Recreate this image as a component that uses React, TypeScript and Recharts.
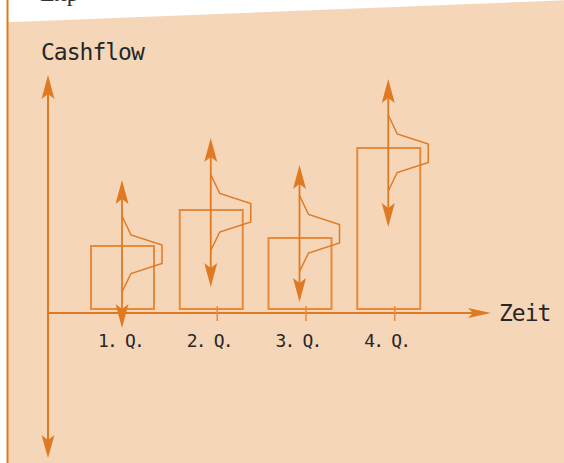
import React from 'react';
import { ComposedChart, Bar, XAxis, YAxis, ReferenceLine, ReferenceArea, LabelList, Label } from 'recharts';

// ---- data (values in cashflow units) ----
const quarters = ['1. Q.', '2. Q.', '3. Q.', '4. Q.'];
const boxValues = [6.3, 9.9, 7.1, 16.1];
const rangeLow = [-1.9, 2.2, 0.7, 8.2];
const rangeHigh = [12.9, 17.1, 14.4, 23.0];
const yAxisTitle = 'Cashflow';
const xAxisTitle = 'Zeit';
const pageHeading = 'Exp';
const Y_DOMAIN: [number, number] = [-14.9, 23.4];
const TIME_AXIS_VALUE = -0.4;

const data = quarters.map((q, i) => ({
  q,
  box: boxValues[i],
  range: [rangeLow[i], rangeHigh[i]],
}));

// ---- styles ----
const ORANGE = '#E07A22';
const BOX = '#E68A3C';
const PEACH = '#F5D6B9';
const INK = '#262626';
const MONO = '"DejaVu Sans Mono", "Liberation Mono", monospace';

const W = 564;
const H = 463;

const ValueArrow = (props: any) => {
  const { x, y, width, height } = props;
  if (x == null || y == null) return null;
  const cx = x + width / 2;
  const top = Math.min(y, y + height);
  const bottom = Math.max(y, y + height);
  const mid = (top + bottom) / 2;
  const L = 24, hw = 6.5, notch = 5;
  const curve = [
    [cx, mid - 38],
    [cx + 9, mid - 19],
    [cx + 40, mid - 9],
    [cx + 40, mid + 9.5],
    [cx + 9, mid + 19.5],
    [cx, mid + 38],
  ]
    .map((p) => p.join(','))
    .join(' ');
  return (
    <g>
      <line x1={cx} y1={top + 10} x2={cx} y2={bottom - 10} stroke={ORANGE} strokeWidth={1.8} />
      <polygon
        points={`${cx},${top} ${cx + hw},${top + L} ${cx},${top + L - notch} ${cx - hw},${top + L}`}
        fill={ORANGE}
      />
      <polygon
        points={`${cx},${bottom} ${cx + hw},${bottom - L} ${cx},${bottom - L + notch} ${cx - hw},${bottom - L}`}
        fill={ORANGE}
      />
      <polyline points={curve} fill="none" stroke={ORANGE} strokeWidth={1.5} strokeLinejoin="miter" />
    </g>
  );
};

const TimeAxis = (props: any) => {
  const { x1, x2, y1 } = props;
  const xl = Math.min(x1, x2);
  const xr = Math.max(x1, x2);
  const y = y1;
  return (
    <g>
      <line x1={xl} y1={y} x2={xr - 12} y2={y} stroke={ORANGE} strokeWidth={2} />
      <polygon points={`${xr},${y} ${xr - 23},${y - 5} ${xr - 18},${y} ${xr - 23},${y + 5}`} fill={ORANGE} />
    </g>
  );
};

// vertical cashflow axis: drawn along the left edge of the full value range
const CashflowAxis = (props: any) => {
  const { x, y, width, height } = props;
  if (x == null || y == null) return null;
  const ax = Math.min(x, x + width);
  const top = Math.min(y, y + height);
  const bottom = Math.max(y, y + height);
  return (
    <g>
      <line x1={ax} y1={top + 10} x2={ax} y2={bottom - 10} stroke={ORANGE} strokeWidth={2} />
      <polygon points={`${ax},${top} ${ax + 6.5},${top + 24} ${ax},${top + 19} ${ax - 6.5},${top + 24}`} fill={ORANGE} />
      <polygon
        points={`${ax},${bottom} ${ax + 6.5},${bottom - 23} ${ax},${bottom - 18} ${ax - 6.5},${bottom - 23}`}
        fill={ORANGE}
      />
    </g>
  );
};

const CashflowTitle = (props: any) => {
  const vb = props.viewBox || {};
  const x = vb.x ?? 48;
  const y = vb.y ?? 75;
  return (
    <text x={x - 7} y={y - 15} fill={INK} fontFamily={MONO} fontSize={23} letterSpacing={-1}>
      {yAxisTitle}
    </text>
  );
};

const QuarterLabel = (props: any) => {
  const vb = props.viewBox || props;
  const { x, y, width, height } = vb;
  if (x == null) return null;
  const cx = x + width / 2;
  const base = Math.max(y, y + height);
  const idx = quarters.indexOf(props.value);
  return (
    <g>
      {idx > 0 && (
        <line x1={cx + 6} y1={base - 3} x2={cx + 6} y2={base + 12} stroke={BOX} strokeWidth={1.5} />
      )}
      <text
        x={cx - 2}
        y={base + 37.5}
        textAnchor="middle"
        fill={INK}
        fontFamily={MONO}
        fontSize={18}
        letterSpacing={-1.8}
      >
        {props.value}
      </text>
    </g>
  );
};

export default function App() {
  return (
    <div style={{ position: 'absolute', left: 0, top: 0, width: W, height: H, background: '#ffffff' }}>
      <svg width={W} height={H} style={{ position: 'absolute', left: 0, top: 0 }}>
        <polygon points={`7.5,22.3 ${W},0.3 ${W},${H} 7.5,${H}`} fill={PEACH} />
        <line x1={7.5} y1={0} x2={7.5} y2={H} stroke={ORANGE} strokeWidth={2} />
        <text x={40} y={1} fontFamily='"Liberation Serif", "DejaVu Serif", serif' fontSize={24} fill="#333">
          {pageHeading}
        </text>
      </svg>
      <div style={{ position: 'absolute', left: 0, top: 0 }}>
        <ComposedChart width={W} height={H} data={data} margin={{ top: 75, right: 73, bottom: 5, left: 48 }}>
          <XAxis xAxisId="box" dataKey="q" type="category" hide height={0} padding={{ left: 30, right: 58 }} />
          <XAxis xAxisId="arrow" dataKey="q" type="category" hide height={0} padding={{ left: 30, right: 58 }} />
          <XAxis xAxisId="frame" dataKey="q" type="category" hide height={0} />
          <YAxis type="number" domain={Y_DOMAIN} allowDataOverflow hide width={0} />
          <ReferenceArea
            xAxisId="frame"
            y1={Y_DOMAIN[0]}
            y2={Y_DOMAIN[1]}
            ifOverflow="visible"
            shape={CashflowAxis}
          />
          <Bar
            xAxisId="box"
            dataKey="box"
            barSize={63}
            fill="none"
            stroke={BOX}
            strokeWidth={2}
            isAnimationActive={false}
          >
            <LabelList dataKey="q" content={QuarterLabel} />
          </Bar>
          <Bar xAxisId="arrow" dataKey="range" barSize={60} shape={ValueArrow} isAnimationActive={false} />
          <ReferenceLine
            xAxisId="box"
            y={TIME_AXIS_VALUE}
            ifOverflow="visible"
            shape={TimeAxis}
            label={{
              value: xAxisTitle,
              position: 'right',
              offset: 8,
              fill: INK,
              fontFamily: MONO,
              fontSize: 23,
              letterSpacing: -1,
            }}
          />
          <ReferenceLine
            xAxisId="box"
            y={Y_DOMAIN[1]}
            ifOverflow="visible"
            stroke="none"
            shape={() => <g />}
            label={<Label content={CashflowTitle} />}
          />
        </ComposedChart>
      </div>
    </div>
  );
}
